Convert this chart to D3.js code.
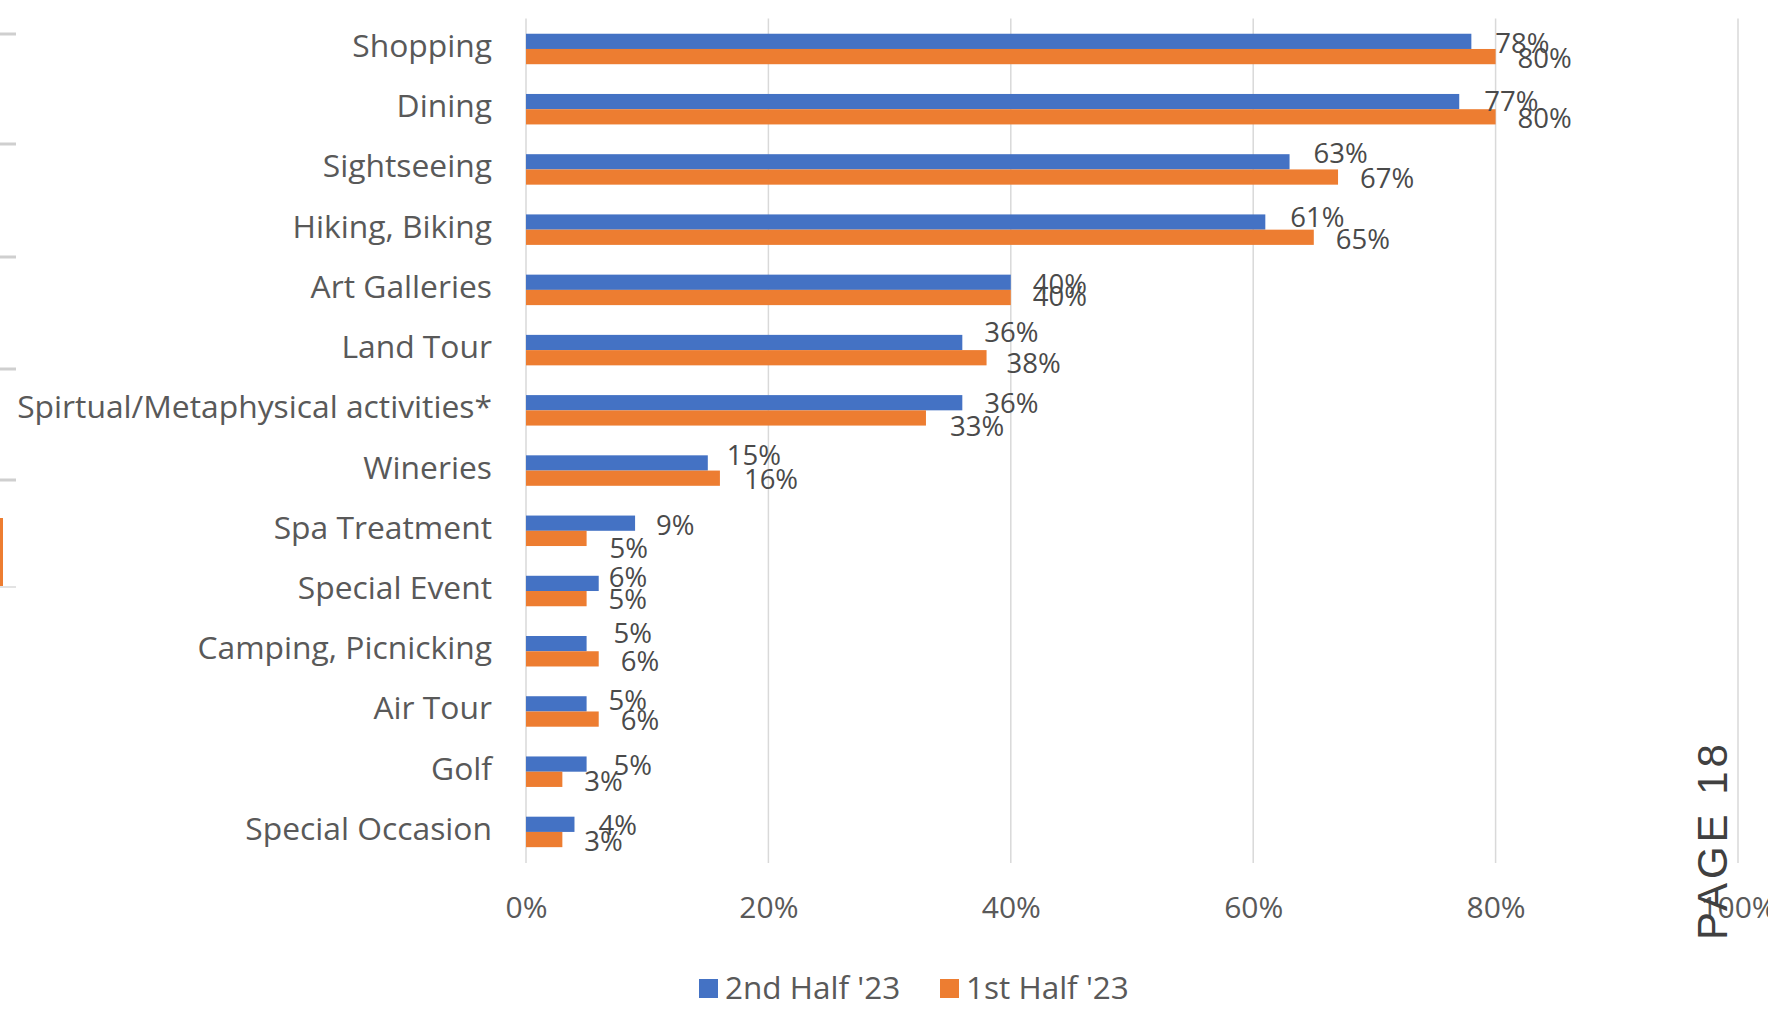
<!DOCTYPE html>
<html>
<head>
<meta charset="utf-8">
<script src="https://cdn.jsdelivr.net/npm/d3@7"></script>
<style>
  html, body { margin: 0; padding: 0; background: #ffffff; }
  svg { display: block; }
  .cat { font-family: "Open Sans", Lato, sans-serif; fill: #595959; }
  .val { font-family: "Open Sans", Lato, sans-serif; fill: #4a4a4a; }
  .tick text { font-family: "Open Sans", Lato, sans-serif; fill: #595959; }
</style>
</head>
<body>
<svg id="chart" width="1768" height="1017"></svg>
<script>
// Activities participated in, by survey period
const categories = [
  "Shopping", "Dining", "Sightseeing", "Hiking, Biking", "Art Galleries",
  "Land Tour", "Spirtual/Metaphysical activities*", "Wineries", "Spa Treatment",
  "Special Event", "Camping, Picnicking", "Air Tour", "Golf", "Special Occasion"
];
const secondHalf23 = [0.78, 0.77, 0.63, 0.61, 0.40, 0.36, 0.36, 0.15, 0.09, 0.06, 0.05, 0.05, 0.05, 0.04];
const firstHalf23  = [0.80, 0.80, 0.67, 0.65, 0.40, 0.38, 0.33, 0.16, 0.05, 0.05, 0.06, 0.06, 0.03, 0.03];
const seriesNames = ["2nd Half '23", "1st Half '23"];
const xTicks = [0, 0.2, 0.4, 0.6, 0.8, 1.0];

// Hand-placed data label nudges (px), [dx, dy] per category, one list per series
const labelNudgeSecond = [[2,2],[3,0],[2,-8],[3,-5],[0,2],[0,-10],[0,1],[-3,-7],[-1,2],[-12,-6],[5,-10],[0,-3],[5,1],[2,1]];
const labelNudgeFirst  = [[0,2],[0,2],[0,1],[0,2],[0,-1],[-2,6],[2,9],[2,1],[1,10],[0,1],[0,3],[0,1],[0,2],[0,2]];

const colors = ["#4472C4", "#ED7D31"];
const svg = d3.select("#chart");

const x = d3.scaleLinear().domain([0, 1]).range([526, 1738]);
const y = d3.scaleBand().domain(categories).range([18.5, 862.4])
  .paddingInner(0.494).paddingOuter(0.253);
const ySub = d3.scaleBand().domain([0, 1]).range([0, y.bandwidth()]);

// vertical gridlines (including the 0% axis line)
svg.append("g").selectAll("line").data(xTicks).join("line")
  .attr("x1", d => x(d)).attr("x2", d => x(d))
  .attr("y1", 18.5).attr("y2", 863)
  .attr("stroke", "#d9d9d9").attr("stroke-width", 1.5);

// x axis tick labels
const xAxis = d3.axisBottom(x).tickValues(xTicks).tickFormat(d3.format(".0%")).tickSize(0).tickPadding(0);
const ax = svg.append("g").attr("transform", "translate(0,863)").call(xAxis);
ax.select(".domain").remove();
ax.selectAll(".tick text").attr("dy", null).attr("y", 55).style("font-size", "30px");

// category labels
svg.append("g").selectAll("text").data(categories).join("text")
  .attr("class", "cat")
  .attr("x", 492)
  .attr("y", d => y(d) + y.bandwidth() / 2 + 8)
  .attr("text-anchor", "end")
  .style("font-size", "31.8px")
  .text(d => d);

// bars
const series = [secondHalf23, firstHalf23];
const nudges = [labelNudgeSecond, labelNudgeFirst];
series.forEach((vals, s) => {
  const g = svg.append("g");
  g.selectAll("rect").data(vals).join("rect")
    .attr("x", x(0))
    .attr("y", (d, i) => y(categories[i]) + ySub(s))
    .attr("width", d => x(d) - x(0))
    .attr("height", ySub.bandwidth())
    .attr("fill", colors[s]);
});

// data labels, drawn after all bars so they sit on top
series.forEach((vals, s) => {
  svg.append("g").selectAll("text").data(vals).join("text")
    .attr("class", "val")
    .attr("x", (d, i) => x(d) + 22 + nudges[s][i][0])
    .attr("y", (d, i) => y(categories[i]) + ySub(s) + ySub.bandwidth() / 2 + 9.5 + nudges[s][i][1])
    .style("font-size", "27.5px")
    .text(d => d3.format(".0%")(d));
});

// legend
const legend = svg.append("g");
const legendX = [699, 940];
seriesNames.forEach((name, s) => {
  legend.append("rect")
    .attr("x", legendX[s]).attr("y", 979).attr("width", 19).attr("height", 19)
    .attr("fill", colors[s]);
  legend.append("text")
    .attr("class", "cat")
    .attr("x", legendX[s] + 26).attr("y", 999)
    .style("font-size", "31.5px")
    .text(name);
});

// page edge marks and page number
const edge = svg.append("g");
[34, 144, 257, 369, 480].forEach(v => {
  edge.append("line").attr("x1", 0).attr("x2", 16).attr("y1", v).attr("y2", v)
    .attr("stroke", "#cfcfcf").attr("stroke-width", 3);
});
edge.append("line").attr("x1", 1.5).attr("x2", 1.5).attr("y1", 518).attr("y2", 586)
  .attr("stroke", "#ED7D31").attr("stroke-width", 3);
edge.append("line").attr("x1", 0).attr("x2", 16).attr("y1", 587).attr("y2", 587)
  .attr("stroke", "#e3e3e3").attr("stroke-width", 2);

svg.append("text")
  .attr("transform", "translate(1727,940) rotate(-90)")
  .style("font-family", "'Liberation Sans', Arial, sans-serif")
  .style("font-size", "42px")
  .style("letter-spacing", "4px")
  .attr("fill", "#404040")
  .text("PAGE 18");
</script>
</body>
</html>
